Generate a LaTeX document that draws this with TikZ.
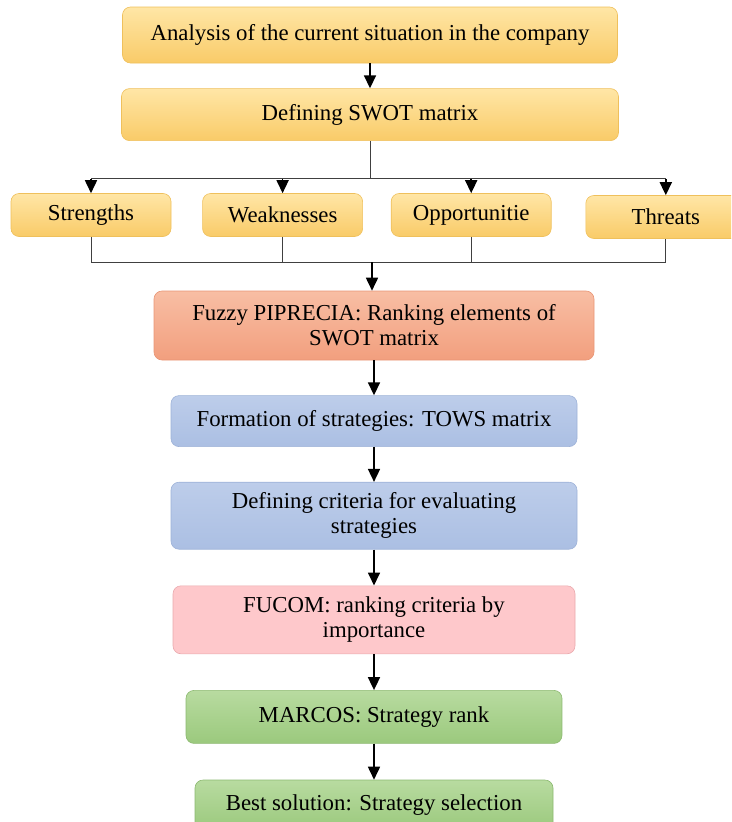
\documentclass[tikz,border=0pt]{standalone}
\usepackage{fontspec}
\setmainfont{Liberation Serif}
\usetikzlibrary{arrows.meta, positioning}

\definecolor{yellowtop}{HTML}{FFE6A6}
\definecolor{yellowbot}{HTML}{F9CB68}
\definecolor{yellowrim}{HTML}{EFC05C}
\definecolor{salmontop}{HTML}{F8BEA4}
\definecolor{salmonbot}{HTML}{F29F7E}
\definecolor{salmonrim}{HTML}{E99676}
\definecolor{bluetop}{HTML}{BDCDEA}
\definecolor{bluebot}{HTML}{ABBFE3}
\definecolor{bluerim}{HTML}{9DB2D8}
\definecolor{pinkfill}{HTML}{FEC8CB}
\definecolor{pinkrim}{HTML}{E9A9AD}
\definecolor{greentop}{HTML}{B8DBA0}
\definecolor{greenbot}{HTML}{9BC97D}
\definecolor{greenrim}{HTML}{8CB970}

\tikzset{
	box/.style={draw, rounded corners=8pt, align=center, inner sep=2pt, line width=0.6pt,
		font=\fontsize{22.8}{25}\selectfont},
	yellowbox/.style={box, top color=yellowtop, bottom color=yellowbot, draw=yellowrim},
	smallbox/.style={yellowbox, minimum width=160pt, minimum height=43pt},
	salmonbox/.style={box, top color=salmontop, bottom color=salmonbot, draw=salmonrim},
	bluebox/.style={box, top color=bluetop, bottom color=bluebot, draw=bluerim},
	pinkbox/.style={box, fill=pinkfill, draw=pinkrim},
	greenbox/.style={box, top color=greentop, bottom color=greenbot, draw=greenrim},
	line/.style={draw=black!75, line width=1pt},
	arr/.style={draw=black, line width=1.7pt, -{Triangle[length=13pt, width=12pt]}}
}

\begin{document}
\begin{tikzpicture}[x=1pt, y=1pt, node distance=25pt]
		\useasboundingbox (0,0) rectangle (731,-822);
		\clip (0,0) rectangle (731,-822);

		\node (analysis) [yellowbox, minimum width=495pt, minimum height=56pt] at (370,-35) {Analysis of the current situation in the company};
		\node (swot) [yellowbox, below = of analysis, minimum width=497pt, minimum height=52pt] {Defining SWOT matrix};

		\node (s) [smallbox] at (91,-215) {Strengths};
		\node (w) [smallbox, right = 31pt of s] {Weaknesses};
		\node (o) [smallbox, right = 28pt of w] {Opportunitie};
		\node (t) [smallbox, right = 34pt of o, yshift=-2pt] {Threats};

		\node (fuzzy) [salmonbox, minimum width=440pt, minimum height=69pt] at (374,-325.5) {Fuzzy PIPRECIA: Ranking elements of\\SWOT matrix};
		\node (tows) [bluebox, below = 35pt of fuzzy, minimum width=406pt, minimum height=51pt] {Formation of strategies: TOWS matrix};
		\node (crit) [bluebox, below = 35pt of tows, minimum width=406pt, minimum height=67pt] {Defining criteria for evaluating\\strategies};
		\node (fucom) [pinkbox, below = 36pt of crit, minimum width=402pt, minimum height=68pt] {FUCOM: ranking criteria by\\importance};
		\node (marcos) [greenbox, below = 36pt of fucom, minimum width=376pt, minimum height=53pt] {MARCOS: Strategy rank};
		\node (best) [greenbox, below = 36pt of marcos, minimum width=358pt, minimum height=50pt] {Best solution: Strategy selection};

		% split into the four SWOT boxes
		\coordinate [below = 38pt of swot.south] (topbus);
		\draw [line] (swot) -- (topbus);
		\draw [line] (s |- topbus) -- (t |- topbus);
		\foreach \n in {s, w, o, t}
			\draw [arr] (\n |- topbus) -- (\n);

		% join them again
		\coordinate (lowbus) at (372,-262);
		\draw [line] (s) -- (s |- lowbus) -- (t |- lowbus) -- (t);
		\foreach \n in {w, o}
			\draw [line] (\n) -- (\n |- lowbus);
		\draw [arr] (lowbus) -- (lowbus |- fuzzy.north);

		\path [arr]
		(analysis) edge (swot)
		(fuzzy) edge (tows)
		(tows) edge (crit)
		(crit) edge (fucom)
		(fucom) edge (marcos)
		(marcos) edge (best)
		;
	\end{tikzpicture}
\end{document}
